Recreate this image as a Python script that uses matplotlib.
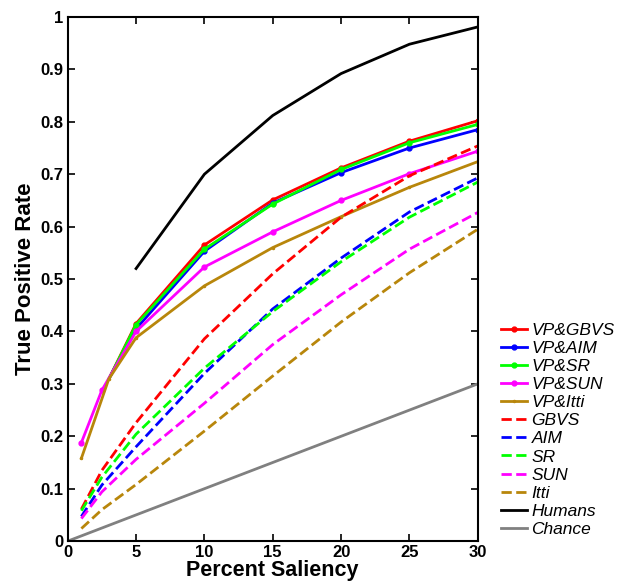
import matplotlib
matplotlib.use("Agg")
import matplotlib.pyplot as plt

plt.rcParams["font.family"] = ["Liberation Sans", "DejaVu Sans"]

# --- data ---
x_vp = [3, 5, 10, 15, 20, 25, 30]
vp_gbvs = [0.309, 0.415, 0.565, 0.651, 0.712, 0.763, 0.802]
vp_aim = [0.309, 0.405, 0.553, 0.645, 0.703, 0.750, 0.785]
vp_sr = [0.309, 0.413, 0.557, 0.643, 0.709, 0.760, 0.795]
x_vp_sun = [1, 2.5, 5, 10, 15, 20, 25, 30]
vp_sun = [0.188, 0.288, 0.400, 0.523, 0.590, 0.650, 0.701, 0.744]
x_vp_itti = [1, 3, 5, 10, 15, 20, 25, 30]
vp_itti = [0.158, 0.309, 0.388, 0.487, 0.560, 0.619, 0.675, 0.724]

x_base = [1, 2.5, 5, 10, 15, 20, 25, 30]
gbvs = [0.061, 0.135, 0.226, 0.386, 0.510, 0.618, 0.697, 0.754]
aim = [0.047, 0.107, 0.180, 0.320, 0.443, 0.540, 0.628, 0.693]
sr = [0.058, 0.122, 0.204, 0.330, 0.438, 0.533, 0.618, 0.685]
sun = [0.043, 0.094, 0.156, 0.263, 0.375, 0.470, 0.557, 0.627]
itti = [0.024, 0.060, 0.108, 0.210, 0.315, 0.418, 0.512, 0.595]

x_humans = [5, 10, 15, 20, 25, 30]
humans = [0.52, 0.70, 0.812, 0.892, 0.948, 0.981]

x_chance = [0, 30]
chance = [0, 0.3]

RED = "#ff0000"
BLUE = "#0000ff"
GREEN = "#00ff00"
MAGENTA = "#ff00ff"
BROWN = "#b8860b"

fig = plt.figure(figsize=(6.27, 5.85), dpi=100)
ax = fig.add_axes([0.108, 0.075, 0.654, 0.896])

lw = 2.0
# first point of these three sits under the VP&Itti line, no dot there
skip_first = list(range(1, len(x_vp)))
ax.plot(x_vp, vp_gbvs, "-", color=RED, lw=lw, marker="o", ms=3.5,
        markevery=skip_first, label="VP&GBVS")
ax.plot(x_vp, vp_aim, "-", color=BLUE, lw=lw, marker="o", ms=3.5,
        markevery=skip_first, label="VP&AIM")
ax.plot(x_vp, vp_sr, "-", color=GREEN, lw=lw, marker="o", ms=3.5,
        markevery=skip_first, label="VP&SR")
ax.plot(x_vp_sun, vp_sun, "-", color=MAGENTA, lw=lw, marker="o", ms=3.5, label="VP&SUN")
ax.plot(x_vp_itti, vp_itti, "-", color=BROWN, lw=lw, marker="o", ms=1.5, label="VP&Itti")
ax.plot(x_base, gbvs, "--", color=RED, lw=lw, label="GBVS")
ax.plot(x_base, aim, "--", color=BLUE, lw=lw, label="AIM")
ax.plot(x_base, sr, "--", color=GREEN, lw=lw, label="SR")
ax.plot(x_base, sun, "--", color=MAGENTA, lw=lw, label="SUN")
ax.plot(x_base, itti, "--", color=BROWN, lw=lw, label="Itti")
ax.plot(x_humans, humans, "-", color="black", lw=lw, label="Humans")
ax.plot(x_chance, chance, "-", color="#808080", lw=lw, label="Chance")

ax.set_xlim(0, 30)
ax.set_ylim(0, 1)
ax.set_xticks([0, 5, 10, 15, 20, 25, 30])
ax.set_yticks([0, 0.1, 0.2, 0.3, 0.4, 0.5, 0.6, 0.7, 0.8, 0.9, 1])
ax.set_yticklabels(["0", "0.1", "0.2", "0.3", "0.4", "0.5", "0.6", "0.7", "0.8", "0.9", "1"])
ax.tick_params(direction="in", top=True, right=True, length=5, width=1.2,
               labelsize=12, pad=3)
for lab in ax.get_xticklabels() + ax.get_yticklabels():
    lab.set_fontweight("bold")
for sp in ax.spines.values():
    sp.set_linewidth(1.5)

ax.set_xlabel("Percent Saliency", fontsize=15.5, fontweight="bold", labelpad=0)
ax.set_ylabel("True Positive Rate", fontsize=16, fontweight="bold", labelpad=3)

leg = ax.legend(loc="upper left", bbox_to_anchor=(1.04, 0.43), frameon=False,
                prop={"style": "italic", "size": 12.5}, handlelength=1.5,
                handletextpad=0.25, labelspacing=0.17, borderaxespad=0)

fig.savefig("out.png", dpi=100)
